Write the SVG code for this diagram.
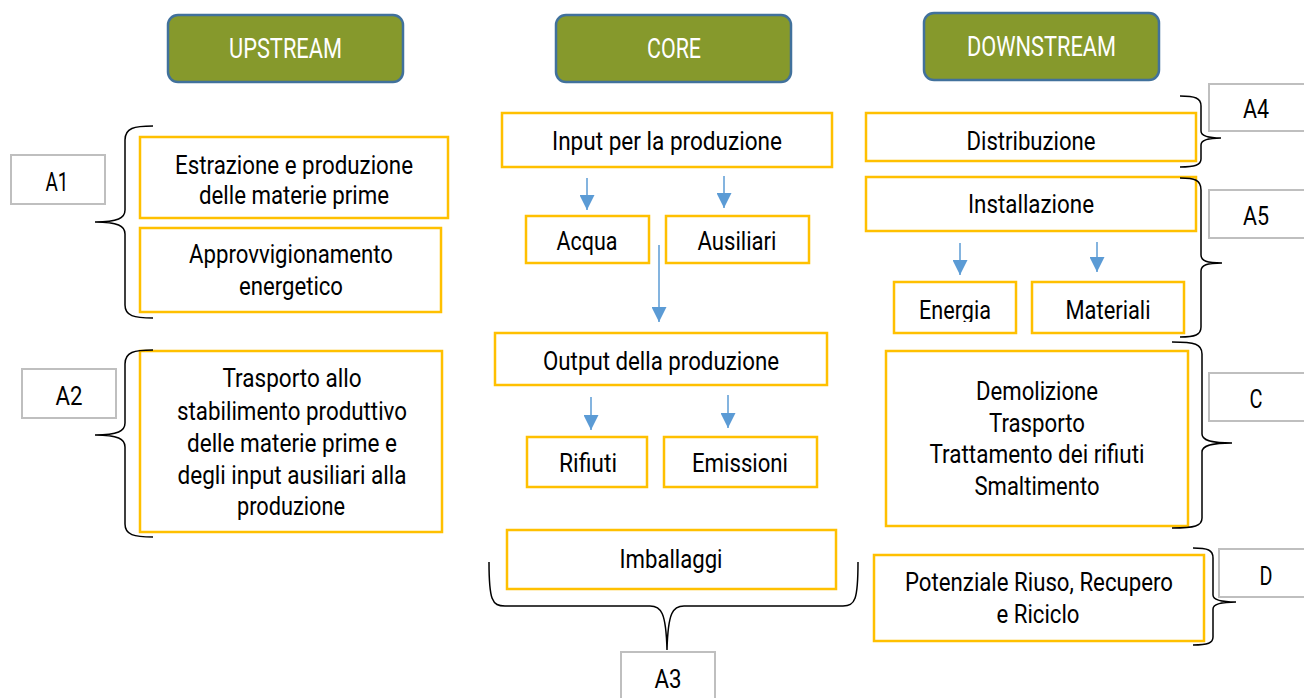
<svg xmlns="http://www.w3.org/2000/svg" width="1304" height="698" viewBox="0 0 1304 698">
<style>
.hdr{fill:#86992C;stroke:#41719C;stroke-width:2.5}
.box{fill:#fff;stroke:#FFC000;stroke-width:2.5}
.lbl{fill:#fff;stroke:#BFBFBF;stroke-width:2}
.brace{fill:none;stroke:#000;stroke-width:1.5}
.arr{stroke:#5B9BD5;stroke-width:1.5;fill:none;marker-end:url(#ah)}
text{font-family:Roboto,"Liberation Sans",sans-serif;font-size:25.5px;fill:#000;text-anchor:middle}
.ht{fill:#fff;font-size:27.5px}
</style>
<defs>
<marker id="ah" viewBox="0 0 10 10" refX="10" refY="5" markerWidth="15" markerHeight="15" markerUnits="userSpaceOnUse" orient="auto">
<path d="M0,0 L10,5 L0,10 z" fill="#5B9BD5"/>
</marker>
<clipPath id="clipE"><rect x="880" y="270" width="150" height="52"/></clipPath>
</defs>
<rect width="1304" height="698" fill="#fff"/>

<g id="upstream"><rect class="hdr" x="168" y="15" width="235" height="67" rx="10"/><text class="ht" x="285.5" y="58" textLength="113" lengthAdjust="spacingAndGlyphs">UPSTREAM</text></g>
<g id="core"><rect class="hdr" x="556" y="15" width="235" height="67" rx="10"/><text class="ht" x="674" y="58" textLength="54" lengthAdjust="spacingAndGlyphs">CORE</text></g>
<g id="downstream"><rect class="hdr" x="924" y="13" width="235" height="67" rx="10"/><text class="ht" x="1041.5" y="56" textLength="149" lengthAdjust="spacingAndGlyphs">DOWNSTREAM</text></g>

<g id="estrazione"><rect class="box" x="140" y="137" width="308" height="81"/>
<text x="294" y="174" textLength="238" lengthAdjust="spacingAndGlyphs">Estrazione e produzione</text>
<text x="294" y="204" textLength="190" lengthAdjust="spacingAndGlyphs">delle materie prime</text></g>
<g id="approvvigionamento"><rect class="box" x="140" y="228" width="301" height="84"/>
<text x="291" y="263" textLength="204" lengthAdjust="spacingAndGlyphs">Approvvigionamento</text>
<text x="291" y="295" textLength="104" lengthAdjust="spacingAndGlyphs">energetico</text></g>
<g id="trasporto"><rect class="box" x="140" y="351" width="302" height="181"/>
<text x="292" y="387" textLength="139" lengthAdjust="spacingAndGlyphs">Trasporto allo</text>
<text x="292" y="420" textLength="230" lengthAdjust="spacingAndGlyphs">stabilimento produttivo</text>
<text x="292" y="452" textLength="210" lengthAdjust="spacingAndGlyphs">delle materie prime e</text>
<text x="292" y="484" textLength="229" lengthAdjust="spacingAndGlyphs">degli input ausiliari alla</text>
<text x="291" y="515" textLength="108" lengthAdjust="spacingAndGlyphs">produzione</text></g>

<g id="input"><rect class="box" x="502" y="113" width="330" height="54"/><text x="667" y="150" textLength="230" lengthAdjust="spacingAndGlyphs">Input per la produzione</text></g>
<g id="acqua"><rect class="box" x="526" y="216" width="123" height="47"/><text x="587" y="250" textLength="61" lengthAdjust="spacingAndGlyphs">Acqua</text></g>
<g id="ausiliari"><rect class="box" x="666" y="216" width="143" height="47"/><text x="737" y="250" textLength="79" lengthAdjust="spacingAndGlyphs">Ausiliari</text></g>
<g id="output"><rect class="box" x="495" y="333" width="332" height="52"/><text x="661" y="370" textLength="236" lengthAdjust="spacingAndGlyphs">Output della produzione</text></g>
<g id="rifiuti"><rect class="box" x="527" y="437" width="120" height="50"/><text x="588" y="472" textLength="58" lengthAdjust="spacingAndGlyphs">Rifiuti</text></g>
<g id="emissioni"><rect class="box" x="664" y="437" width="153" height="50"/><text x="740" y="472" textLength="96" lengthAdjust="spacingAndGlyphs">Emissioni</text></g>
<g id="imballaggi"><rect class="box" x="507" y="530" width="329" height="59"/><text x="671" y="568" textLength="103" lengthAdjust="spacingAndGlyphs">Imballaggi</text></g>

<g id="distribuzione"><rect class="box" x="866" y="113" width="330" height="48"/><text x="1031" y="150" textLength="129" lengthAdjust="spacingAndGlyphs">Distribuzione</text></g>
<g id="installazione"><rect class="box" x="866" y="177" width="330" height="54"/><text x="1031" y="213" textLength="126" lengthAdjust="spacingAndGlyphs">Installazione</text></g>
<g id="energia"><rect class="box" x="894" y="282" width="122" height="51"/><text x="955" y="319" textLength="72" lengthAdjust="spacingAndGlyphs" clip-path="url(#clipE)">Energia</text></g>
<g id="materiali"><rect class="box" x="1032" y="282" width="152" height="51"/><text x="1108" y="319" textLength="85" lengthAdjust="spacingAndGlyphs">Materiali</text></g>
<g id="fine-vita"><rect class="box" x="886" y="351" width="302" height="175"/>
<text x="1037" y="400" textLength="122" lengthAdjust="spacingAndGlyphs">Demolizione</text>
<text x="1037" y="432" textLength="96" lengthAdjust="spacingAndGlyphs">Trasporto</text>
<text x="1037" y="463" textLength="215" lengthAdjust="spacingAndGlyphs">Trattamento dei rifiuti</text>
<text x="1037" y="495" textLength="125" lengthAdjust="spacingAndGlyphs">Smaltimento</text></g>
<g id="potenziale"><rect class="box" x="874" y="555" width="330" height="86"/>
<text x="1039" y="591" textLength="268" lengthAdjust="spacingAndGlyphs">Potenziale Riuso, Recupero</text>
<text x="1038" y="623" textLength="83" lengthAdjust="spacingAndGlyphs">e Riciclo</text></g>

<g id="A1"><rect class="lbl" x="11" y="155" width="94" height="49"/><text x="57" y="191" textLength="23" lengthAdjust="spacingAndGlyphs">A1</text></g>
<g id="A2"><rect class="lbl" x="22" y="369" width="94" height="49"/><text x="69" y="405" textLength="27" lengthAdjust="spacingAndGlyphs">A2</text></g>
<g id="A3"><rect class="lbl" x="621" y="652" width="94" height="50"/><text x="668" y="688" textLength="27" lengthAdjust="spacingAndGlyphs">A3</text></g>
<g id="A4"><rect class="lbl" x="1209" y="84" width="97" height="47"/><text x="1256" y="118" textLength="26" lengthAdjust="spacingAndGlyphs">A4</text></g>
<g id="A5"><rect class="lbl" x="1209" y="190" width="97" height="48"/><text x="1256" y="225" textLength="26" lengthAdjust="spacingAndGlyphs">A5</text></g>
<g id="C"><rect class="lbl" x="1209" y="373" width="97" height="48"/><text x="1256" y="408" textLength="13" lengthAdjust="spacingAndGlyphs">C</text></g>
<g id="D"><rect class="lbl" x="1219" y="549" width="87" height="48"/><text x="1266" y="585" textLength="13" lengthAdjust="spacingAndGlyphs">D</text></g>

<g id="connectors">
<path class="brace" d="M153,126 C134,126 125,128 125,140 L125,210 C125,218 118,222 95,222 C118,222 125,226 125,234 L125,305 C125,316 134,318 153,318"/>
<path class="brace" d="M153,350 C134,350 125,352 125,364 L125,423 C125,431 118,435 95,435 C118,435 125,439 125,447 L125,524 C125,535 134,537 153,537"/>
<path class="brace" d="M489,562 C489,600 492,606 505,606 L650,606 C661,606 666,612 667,650 C668,612 673,606 684,606 L843,606 C855,606 858,600 858,562"/>
<path class="brace" d="M1180,96 C1195,96 1201,98 1201,106 L1201,131 C1201,136 1207,138 1221,138 C1207,138 1201,140 1201,145 L1201,159 C1201,165 1195,167 1180,167"/>
<path class="brace" d="M1180,178 C1195,178 1201,180 1201,190 L1201,255 C1201,261 1207,263 1222,263 C1207,263 1201,265 1201,271 L1201,327 C1201,335 1195,337 1180,337"/>
<path class="brace" d="M1172,342 C1195,342 1202,344 1202,354 L1202,434 C1202,440 1210,443 1232,443 C1210,443 1202,446 1202,452 L1202,518 C1202,526 1195,528 1172,528"/>
<path class="brace" d="M1193,548 C1208,548 1213,550 1213,558 L1213,595 C1213,600 1220,602 1236,602 C1220,602 1213,604 1213,609 L1213,637 C1213,643 1208,645 1193,645"/>
<line class="arr" x1="587" y1="178" x2="587" y2="210"/>
<line class="arr" x1="724" y1="176" x2="724" y2="208"/>
<line class="arr" x1="659" y1="245" x2="659" y2="322"/>
<line class="arr" x1="591" y1="397" x2="591" y2="430"/>
<line class="arr" x1="728" y1="395" x2="728" y2="428"/>
<line class="arr" x1="960" y1="243" x2="960" y2="275"/>
<line class="arr" x1="1097" y1="242" x2="1097" y2="272"/>
</g>
</svg>
